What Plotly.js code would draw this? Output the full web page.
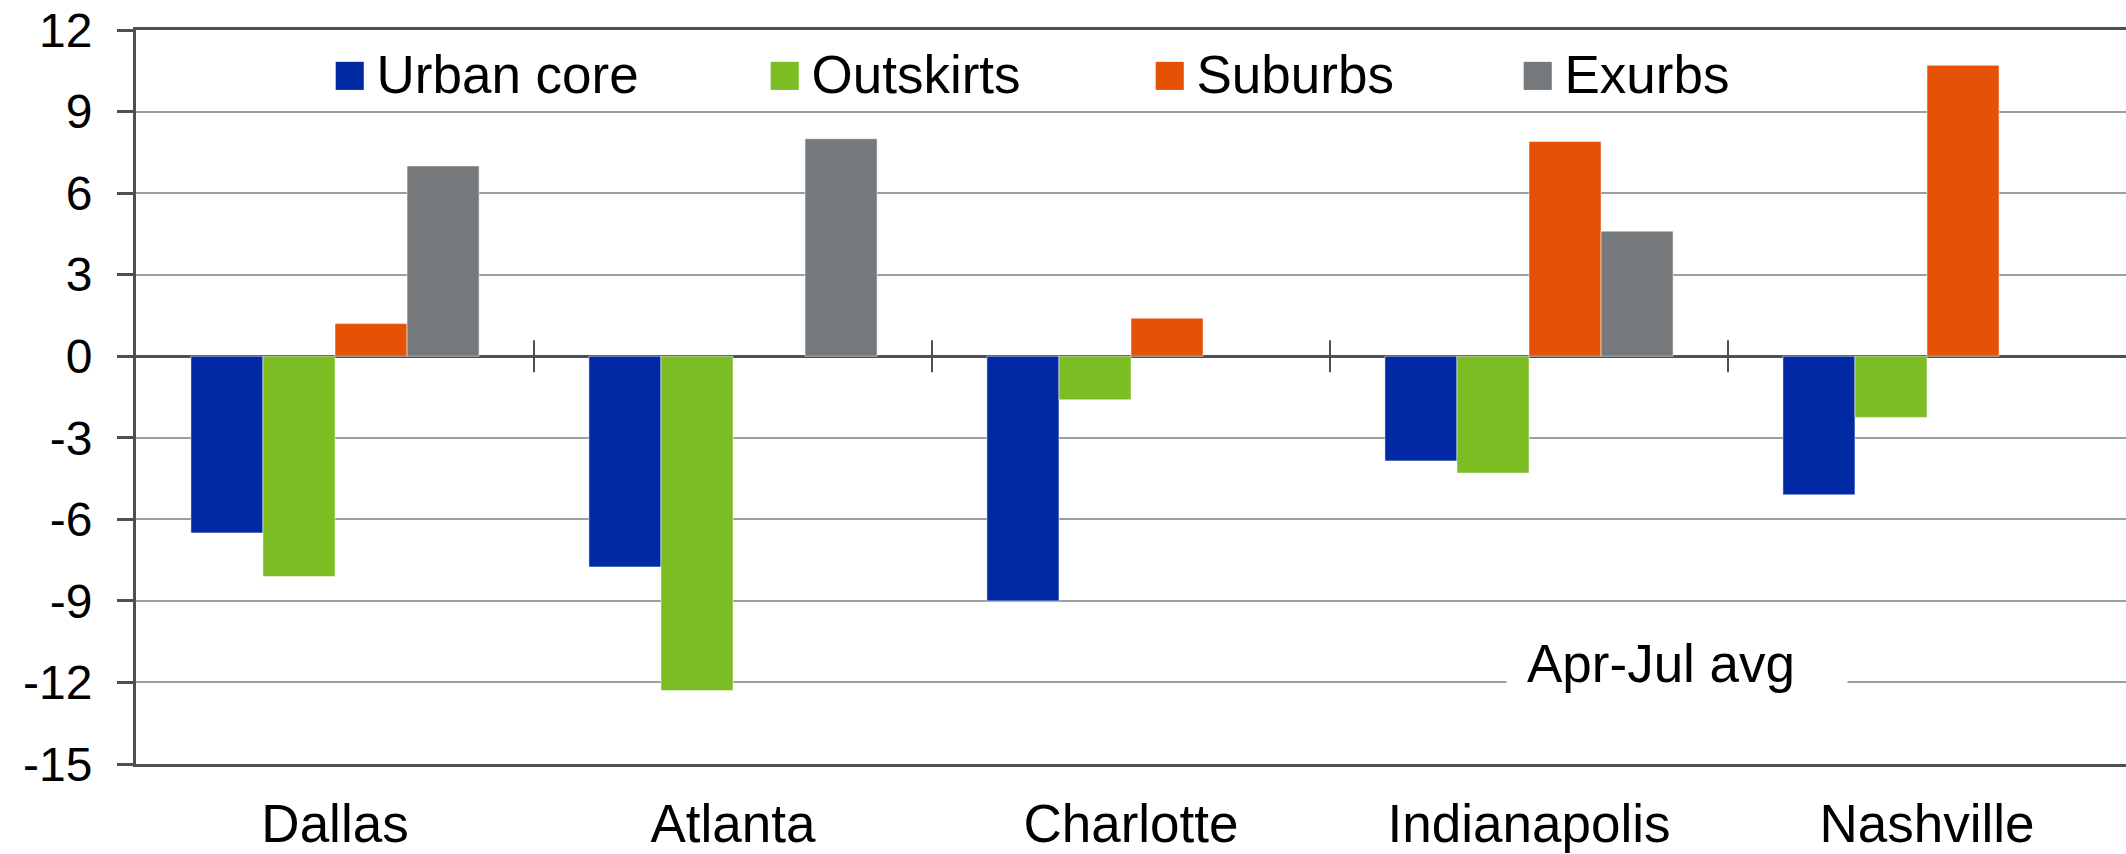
<!DOCTYPE html>
<html>
<head>
<meta charset="utf-8">
<script src="https://cdn.plot.ly/plotly-3.0.1.min.js"></script>
<style>
  html, body { margin: 0; padding: 0; background: #ffffff; }
  #chart { width: 2126px; height: 854px; }
</style>
</head>
<body>
<div id="chart"></div>
<script>
// ---- data ----
const cities = ["Dallas", "Atlanta", "Charlotte", "Indianapolis", "Nashville"];
const seriesNames = ["Urban core", "Outskirts", "Suburbs", "Exurbs"];
const urbanCore = [-6.5, -7.75, -9.0, -3.85, -5.1];
const outskirts = [-8.1, -12.3, -1.6, -4.3, -2.25];
const suburbs = [1.2, null, 1.4, 7.9, 10.7];
const exurbs = [7.0, 8.0, null, 4.6, null];
const yTicks = [12, 9, 6, 3, 0, -3, -6, -9, -12, -15];
const noteText = "Apr-Jul avg";

// ---- styles ----
const colors = ["#0029A3", "#7BBD22", "#E35205", "#76797C"];
const FONT = "'Liberation Sans', Arial, Helvetica, sans-serif";
const FS = 53;
const axisDark = "#4B5056";
const gridGrey = "#9C9FA2";

const values = [urbanCore, outskirts, suburbs, exurbs];
const traces = values.map((v, i) => ({
  type: "bar",
  name: seriesNames[i],
  x: cities,
  y: v,
  marker: { color: colors[i], line: { color: "rgba(255,255,255,0.5)", width: 1 } },
  showlegend: false,
  hoverinfo: "x+y+name"
}));

// category divider ticks crossing the zero line
const shapes = [];
for (let i = 1; i < cities.length; i++) {
  shapes.push({
    type: "line", xref: "x", yref: "y",
    x0: i - 0.5, x1: i - 0.5,
    ysizemode: "pixel", yanchor: 0, y0: -16, y1: 16,
    line: { color: axisDark, width: 2 }
  });
}

// legend built as text annotations (colored square glyph + series name)
const legendX = [0.0975, 0.3160, 0.5095, 0.6945];
const annotations = seriesNames.map((n, i) => ({
  xref: "paper", yref: "paper",
  x: legendX[i], y: 0.9418,
  xanchor: "left", yanchor: "middle",
  showarrow: false,
  text: '<span style="color:' + colors[i] + ';font-size:58px">\u25A0</span>' +
        '<span style="font-size:34px"> </span>' + n,
  font: { family: FONT, size: FS, color: "#000000" }
}));
annotations.push({
  xref: "paper", yref: "y",
  x: 0.7744, y: -11.3,
  xanchor: "center", yanchor: "middle",
  showarrow: false,
  text: noteText,
  width: 300, align: "left",
  bgcolor: "#ffffff", borderpad: 20,
  font: { family: FONT, size: FS, color: "#000000" }
});

const layout = {
  width: 2126, height: 854,
  margin: { l: 136, r: 0, t: 30, b: 90, pad: 0 },
  paper_bgcolor: "#ffffff",
  plot_bgcolor: "#ffffff",
  barmode: "group",
  bargap: 0.276,
  bargroupgap: 0,
  showlegend: false,
  font: { family: FONT, size: FS, color: "#000000" },
  xaxis: {
    type: "category",
    showgrid: false,
    showline: true, mirror: true,
    linecolor: axisDark, linewidth: 3,
    ticks: "", ticklabelstandoff: 11,
    tickfont: { family: FONT, size: FS, color: "#000000" },
    fixedrange: true
  },
  yaxis: {
    range: [-15, 12],
    tickmode: "array",
    tickvals: yTicks,
    ticktext: yTicks.map(String),
    ticklabeloverflow: "allow",
    showgrid: true, gridcolor: gridGrey, gridwidth: 2,
    zeroline: true, zerolinecolor: axisDark, zerolinewidth: 3,
    showline: true, linecolor: axisDark, linewidth: 3,
    ticks: "outside", ticklen: 16, tickwidth: 3, tickcolor: axisDark,
    ticklabelstandoff: 15,
    tickfont: { family: FONT, size: 48, color: "#000000" },
    fixedrange: true
  },
  shapes: shapes,
  annotations: annotations
};

Plotly.newPlot("chart", traces, layout, { displayModeBar: false, staticPlot: true });
</script>
</body>
</html>
